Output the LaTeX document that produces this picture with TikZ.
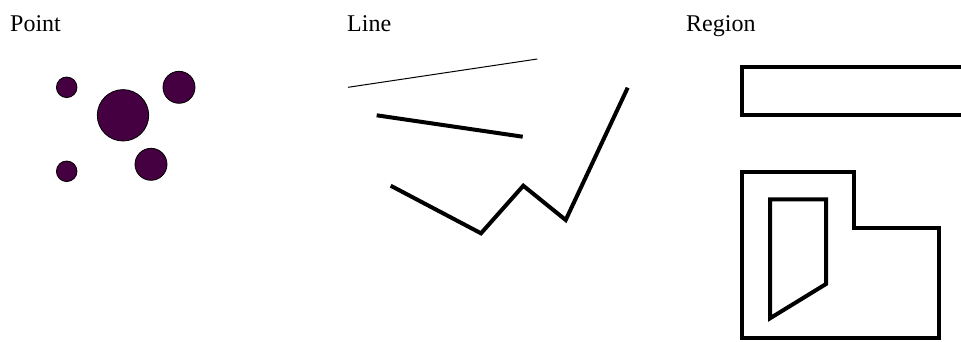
\documentclass[tikz,border=0pt]{standalone}
\usepackage{fontspec}
\setmainfont{Liberation Serif}
\definecolor{pointfill}{RGB}{68,0,64}
\begin{document}
\begin{tikzpicture}[x=1pt,y=-1pt,
  title/.style={anchor=base west,inner sep=0pt,font=\fontsize{24}{28}\selectfont},
  pt/.style={fill=pointfill,draw=black,line width=0.8pt},
  thinline/.style={line width=1pt},
  thickline/.style={line width=4pt},
  regionline/.style={line width=4pt,line join=miter}]
\useasboundingbox (0,0) rectangle (961,341);
\clip (0,0) rectangle (961,341);
\node[title] (tpoint) at (10,31) {Point};
\node[title] (tline) at (347,31) {Line};
\node[title] (tregion) at (686,31) {Region};
% points
\draw[pt] (66.7,87.3) circle (10.3);
\draw[pt] (123,115.3) circle (25.7);
\draw[pt] (179,87.3) circle (16);
\draw[pt] (151,164.3) circle (16);
\draw[pt] (66.7,171.3) circle (10.3);
% lines
\draw[thinline] (348,87.3) -- (537.3,59);
\draw[thickline] (376.7,115.3) -- (522.7,136.7);
\draw[thickline,line join=miter] (390.7,185.7) -- (481,233.3) -- (523.3,185.7) -- (565.7,220) -- (627.7,87.7);
% regions
\draw[regionline] (742,66.7) rectangle (975,115);
\draw[regionline] (742,171.7) -- (854.3,171.7) -- (854.3,227.7) -- (938.7,227.7) -- (938.7,337.7) -- (742,337.7) -- cycle;
\draw[regionline] (770,199.3) -- (826,199.3) -- (826,284) -- (770,318.3) -- cycle;
\end{tikzpicture}
\end{document}
